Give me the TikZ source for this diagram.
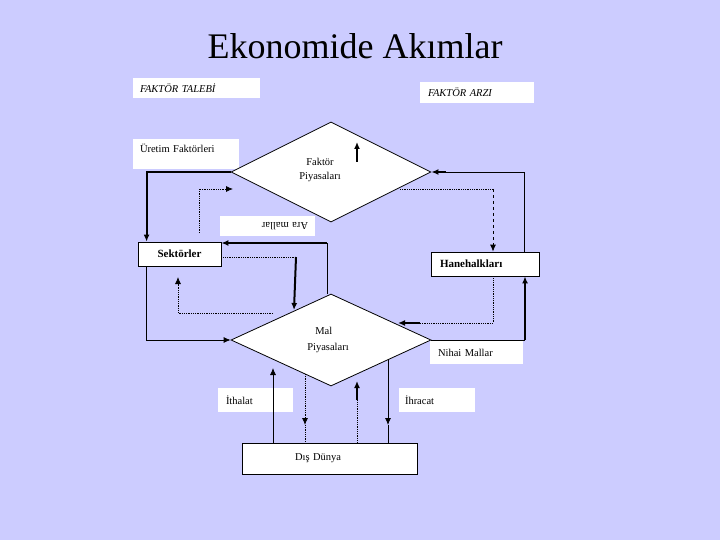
\documentclass[tikz,border=0pt]{standalone}
\usepackage{fontspec}
\setmainfont{Liberation Serif}
\usetikzlibrary{shapes.geometric,arrows.meta}
\definecolor{zemin}{RGB}{204,204,255}

\tikzset{
  kutu/.style={fill=white, inner ysep=0pt, align=left, font=\fontsize{10.5}{12}\selectfont},
  cerceve/.style={kutu, draw, line width=0.8pt},
  piyasa/.style={diamond, draw, fill=white, line width=0.8pt, inner sep=0pt},
  ince/.style={line width=0.8pt},
  kalin/.style={line width=2pt},
  noktali/.style={line width=0.8pt, densely dotted},
}

\begin{document}
\begin{tikzpicture}[x=1pt, y=-1pt, >={Latex[length=7pt,width=6pt]}]
        \fill[zemin] (0,0) rectangle (720,540);
        \useasboundingbox (0,0) rectangle (720,540);
        % Başlık
        \node[font=\fontsize{36}{40}\selectfont] (baslik) at (355,46) {Ekonomide Akımlar};
        % Üst etiketler
        \node[kutu, text width=113pt, inner xsep=7pt, minimum height=20pt, font=\itshape\fontsize{10.5}{12}\selectfont] (talep) at (196.5,88) {FAKTÖR TALEBİ};
        \node[kutu, text width=98pt, inner xsep=8pt, minimum height=21pt, font=\itshape\fontsize{10.5}{12}\selectfont] (arz) at (477,92.5) {FAKTÖR ARZI};
        \node[kutu, text width=92pt, inner xsep=7pt, inner ysep=6pt, text height=8pt, text depth=10pt] (uretim) at (186,154) {Üretim Faktörleri};
        % Faktör piyasaları
        \node[piyasa, minimum width=200pt, minimum height=100pt] (fp) at (331,172) {};
        \node[align=center, font=\fontsize{10.5}{14}\selectfont] (fptext) at (320,170) {Faktör\\Piyasaları};
        \node[kutu, rotate=180, text width=81pt, inner xsep=7pt, minimum height=20pt] (ara) at (267.5,226) {Ara mallar};
        % Sektörler ve hanehalkları
        \node[cerceve, minimum width=83pt, minimum height=24pt, font=\bfseries\fontsize{11}{12}\selectfont] (sekt) at (179.5,254) {Sektörler};
        \node[cerceve, text width=90pt, inner xsep=9pt, minimum height=24pt, font=\bfseries\fontsize{11}{12}\selectfont] (hane) at (485,264) {Hanehalkları};
        % Mal piyasaları
        \node[piyasa, minimum width=200pt, minimum height=92pt] (mp) at (331,340) {};
        \node[align=left, font=\fontsize{10.5}{16}\selectfont] (mptext) at (328,340) {\hspace*{8pt}Mal\\Piyasaları};
        \node[kutu, text width=77pt, inner xsep=8pt, minimum height=23pt] (nihai) at (476.5,352.5) {Nihai Mallar};
        % Dış dünya
        \node[kutu, text width=59pt, inner xsep=8pt, minimum height=24pt] (ithalat) at (255.5,400) {İthalat};
        \node[kutu, text width=64pt, inner xsep=6pt, minimum height=24pt] (ihracat) at (437,400) {İhracat};
        \node[cerceve, text width=69pt, inner xsep=53pt, minimum height=31pt] (dis) at (329.5,458.5) {Dış Dünya};

        % Yardımcı noktalar
        \coordinate (a1) at (199,233);
        \coordinate (a2) at (233,189);
        \coordinate (b1) at (327,243);
        \coordinate (c1) at (296,257);
        \coordinate (c2) at (294,310);
        \coordinate (d1) at (273,313);
        \coordinate (d2) at (178,277);
        \coordinate (f1) at (400,189);
        \coordinate (f2) at (493,189);
        \coordinate (g1) at (493,323);
        \coordinate (g2) at (420,323);
        \coordinate (g3) at (398,323);
        \coordinate (h1) at (525,340);
        \coordinate (i1) at (273,368);
        \coordinate (j1) at (305,374);
        \coordinate (j2) at (305,425);
        \coordinate (k1) at (357,400);
        \coordinate (k2) at (357,381);
        \coordinate (l1) at (388,360);
        \coordinate (l2) at (388,425);
        \coordinate (m1) at (357,162);
        \coordinate (m2) at (357,142);

        % Faktör piyasası akımları
        \draw[kalin, ->] (m1) -- (m2);
        \draw[kalin, ->] (fp.west) -| ([xshift=9pt]sekt.north west);
        \draw[noktali, ->] (a1) |- (a2);
        \draw[ince] ([xshift=-15pt]hane.north east) |- ([xshift=15pt]fp.east);
        \draw[kalin, ->] ([xshift=15pt]fp.east) -- (fp.east);
        \draw[noktali] (f1) -- (f2);
        \draw[ince, dashed, ->] (f2) -- (f2 |- hane.north);
        % Ara mallar
        \draw[ince] (b1 |- mp.north) -- (b1);
        \draw[kalin, ->] (b1) -- (b1 -| sekt.east);
        \draw[noktali] ([yshift=-3pt]sekt.east) -- (c1);
        \draw[kalin, ->] (c1) -- (c2);
        \draw[noktali, ->] (d1) -| (d2);
        \draw[ince, ->] ([xshift=9pt]sekt.south west) |- (mp.west);
        % Nihai mallar
        \draw[noktali] (g1 |- hane.south) -- (g1) -- (g2);
        \draw[kalin, ->] (g2) -- (g3);
        \draw[ince] (mp.east) -- (h1);
        \draw[kalin, ->] (h1) -- (h1 |- hane.south);
        % Dış dünya akımları
        \draw[ince, ->] (i1 |- dis.north) -- (i1);
        \draw[noktali, ->] (j1) -- (j2);
        \draw[noktali] (j2) -- (j2 |- dis.north);
        \draw[noktali] (k1 |- dis.north) -- (k1);
        \draw[kalin, ->] (k1) -- (k2);
        \draw[ince, ->] (l1) -- (l2);
        \draw[ince] (l2) -- (l2 |- dis.north);
\end{tikzpicture}
\end{document}
